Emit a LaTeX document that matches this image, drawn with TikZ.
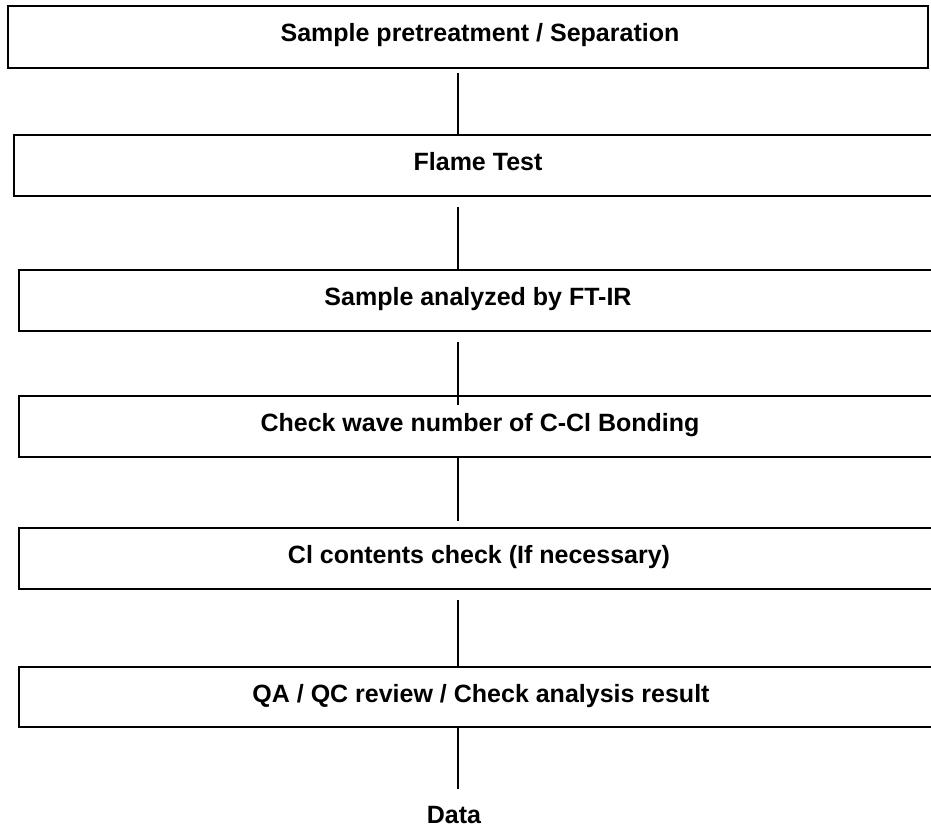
\documentclass[tikz,border=0pt]{standalone}
\usepackage{fontspec}
\setmainfont{Liberation Sans}
\begin{document}
\begin{tikzpicture}[x=1pt,y=-1pt,
  stepbox/.style={draw=black, line width=2.5pt, minimum width=#1, inner sep=0pt, outer sep=0pt},
  boxtext/.style={anchor=base, font=\fontsize{25}{30}\selectfont\bfseries, inner sep=0pt},
  conn/.style={draw=black, line width=2pt}]
\useasboundingbox (0,0) rectangle (931,828);
\clip (0,0) rectangle (931,828);
\coordinate (cx) at (458,0);
% boxes
\node[stepbox=920pt, minimum height=62pt] (b1) at (468,37) {};
\node[stepbox=931pt, minimum height=61pt] (b2) at (479.5,165.5) {};
\node[stepbox=926pt, minimum height=61pt] (b3) at (482,300.5) {};
\node[stepbox=926pt, minimum height=61pt] (b4) at (482,426.5) {};
\node[stepbox=926pt, minimum height=61pt] (b5) at (482,558.5) {};
\node[stepbox=926pt, minimum height=60pt] (b6) at (482,697) {};
% texts
\node[boxtext] (t1) at (480,41) {Sample pretreatment / Separation};
\node[boxtext] (t2) at (478,170) {Flame Test};
\node[boxtext] (t3) at (478,305) {Sample analyzed by FT-IR};
\node[boxtext] (t4) at (480,431) {Check wave number of C-Cl Bonding};
\node[boxtext] (t5) at (479,563) {Cl contents check (If necessary)};
\node[boxtext] (t6) at (481,702) {QA / QC review / Check analysis result};
\node[boxtext] (data) at (454,823) {Data};
% connectors
\draw[conn, shorten <=5pt, shorten >=-1pt] (b1.south -| cx) -- (b2.north -| cx);
\draw[conn, shorten <=11pt, shorten >=-1pt] (b2.south -| cx) -- (b3.north -| cx);
\draw[conn, shorten <=11pt, shorten >=-9pt] (b3.south -| cx) -- (b4.north -| cx);
\draw[conn, shorten >=7pt] (b4.south -| cx) -- (b5.north -| cx);
\draw[conn, shorten <=11pt] (b5.south -| cx) -- (b6.north -| cx);
\draw[conn, shorten >=34pt] (b6.south -| cx) -- (data.base -| cx);
\end{tikzpicture}
\end{document}
